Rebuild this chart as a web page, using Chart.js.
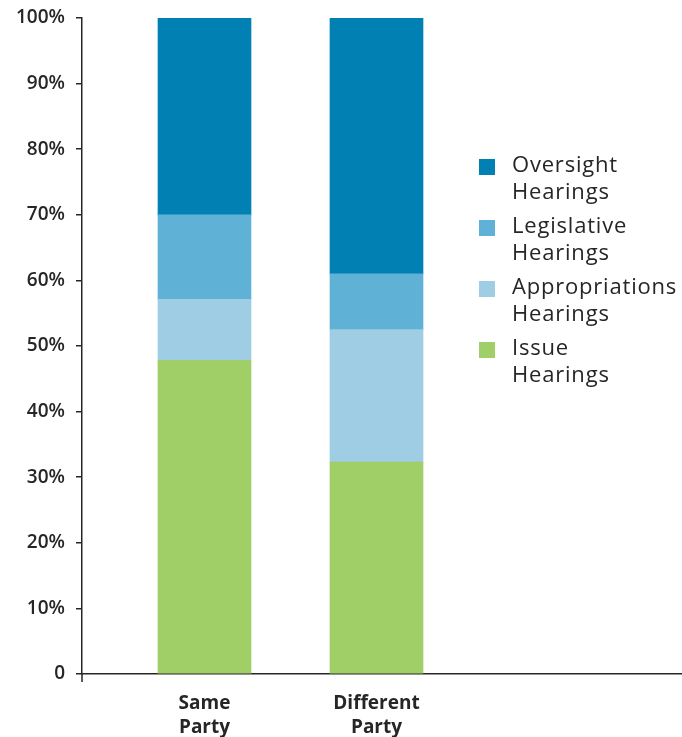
<!DOCTYPE html>
<html>
<head>
<meta charset="utf-8">
<script src="https://cdn.jsdelivr.net/npm/chart.js@4.4.1/dist/chart.umd.min.js"></script>
<style>
  html, body { margin: 0; padding: 0; background: #ffffff; }
  #wrap { position: relative; width: 682px; height: 737px; }
</style>
</head>
<body>
<div id="wrap"><canvas id="chart" width="682" height="737"></canvas></div>
<script>
// Share of hearings by type, same-party vs different-party control
const categories = [['Same', 'Party'], ['Different', 'Party']];
const categoryPositions = [1, 2];
const issueHearings = [47.8, 32.3];
const appropriationsHearings = [9.3, 20.2];
const legislativeHearings = [12.9, 8.5];
const oversightHearings = [30.0, 39.0];
const yTickValues = [0, 10, 20, 30, 40, 50, 60, 70, 80, 90, 100];

const INK = '#262626';
const FONT = '"Open Sans", "Liberation Sans", sans-serif';

function points(values) {
  return values.map((v, i) => ({ x: categoryPositions[i], y: v }));
}

// Two-line legend on the right, top of the stack listed first
const sideLegend = {
  id: 'sideLegend',
  afterDraw(chart) {
    const ctx = chart.ctx;
    const x0 = 479, y0 = 159, box = 16, step = 61, lineGap = 27;
    const sets = chart.data.datasets.slice().reverse();
    ctx.save();
    ctx.font = '22px ' + FONT;
    ctx.fillStyle = INK;
    ctx.textBaseline = 'middle';
    ctx.textAlign = 'left';
    if ('letterSpacing' in ctx) ctx.letterSpacing = '0.8px';
    sets.forEach((ds, i) => {
      const top = y0 + i * step;
      ctx.fillStyle = ds.backgroundColor;
      ctx.fillRect(x0, top, box, box);
      ctx.fillStyle = INK;
      const words = ds.label.split(' ');
      ctx.fillText(words[0], x0 + 33, top + 7);
      ctx.fillText(words.slice(1).join(' '), x0 + 33, top + 7 + lineGap);
    });
    ctx.restore();
  }
};

// Short stub of the value axis below the baseline
const axisStub = {
  id: 'axisStub',
  afterDraw(chart) {
    const a = chart.chartArea, ctx = chart.ctx;
    ctx.save();
    ctx.strokeStyle = INK;
    ctx.lineWidth = 1.5;
    ctx.beginPath();
    ctx.moveTo(a.left, a.bottom);
    ctx.lineTo(a.left, a.bottom + 8);
    ctx.stroke();
    ctx.restore();
  }
};

new Chart(document.getElementById('chart'), {
  type: 'bar',
  data: {
    datasets: [
      { label: 'Issue Hearings', data: points(issueHearings), backgroundColor: '#a0ce67' },
      { label: 'Appropriations Hearings', data: points(appropriationsHearings), backgroundColor: '#9ecde4' },
      { label: 'Legislative Hearings', data: points(legislativeHearings), backgroundColor: '#60b1d6' },
      { label: 'Oversight Hearings', data: points(oversightHearings), backgroundColor: '#0080b3' }
    ]
  },
  options: {
    responsive: false,
    animation: false,
    devicePixelRatio: 1,
    layout: { padding: { top: 18, right: 0, left: 0, bottom: 0 } },
    datasets: { bar: { barThickness: 93, borderWidth: 0 } },
    plugins: { legend: { display: false }, tooltip: { enabled: false } },
    scales: {
      x: {
        type: 'linear',
        stacked: true,
        offset: false,
        bounds: 'data',
        min: 0.2878,
        max: 3.7762,
        afterBuildTicks(scale) {
          scale.ticks = categoryPositions.map(v => ({ value: v }));
        },
        afterFit(scale) {
          scale.height = 63;
          scale.paddingLeft = 0;
          scale.paddingRight = 0;
        },
        grid: { display: true, drawOnChartArea: false, drawTicks: false },
        border: { display: true, color: INK, width: 1.5 },
        ticks: {
          autoSkip: false,
          maxRotation: 0,
          padding: 17,
          color: INK,
          font: { family: FONT, size: 19, weight: '700', lineHeight: 1.28 },
          callback(value) {
            const i = categoryPositions.indexOf(value);
            return i >= 0 ? categories[i] : '';
          }
        }
      },
      y: {
        stacked: true,
        min: 0,
        max: 100,
        afterBuildTicks(scale) {
          scale.ticks = yTickValues.map(v => ({ value: v }));
        },
        afterFit(scale) {
          scale.width = 82;
          scale.paddingTop = 0;
          scale.paddingBottom = 0;
        },
        grid: { display: true, drawOnChartArea: false, drawTicks: true, tickLength: 6, color: INK, lineWidth: 1.5 },
        border: { display: true, color: INK, width: 1.5 },
        ticks: {
          padding: 11,
          color: INK,
          font: { family: FONT, size: 19, weight: '600' },
          callback(value) { return value === 0 ? '0' : value + '%'; }
        }
      }
    }
  },
  plugins: [sideLegend, axisStub]
});
</script>
</body>
</html>
